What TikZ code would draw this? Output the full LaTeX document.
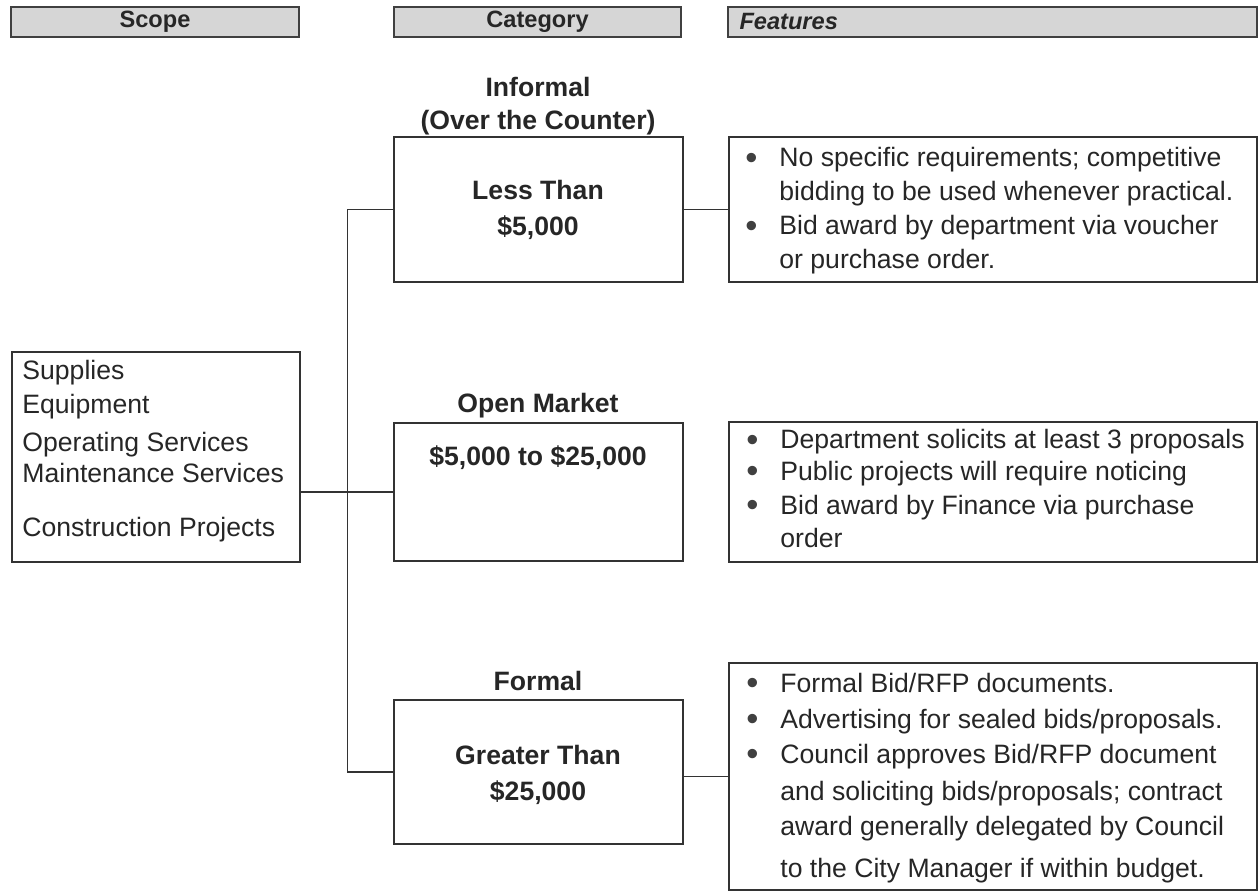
\documentclass[tikz,border=0pt]{standalone}
\usepackage{fontspec}
\usepackage{graphicx}
\setmainfont{Liberation Sans}
\newcommand{\fbul}{\raisebox{-0.08em}{\scalebox{1.3}{\textcolor{black!75}{\textbullet}}}}

\begin{document}
\begin{tikzpicture}[x=0.5pt, y=-0.5pt,
  hdr/.style={draw=black!75, line width=0.9pt, fill=black!16, minimum height=15pt, inner sep=0pt, text=black!85, font=\fontsize{11.8}{14}\selectfont\bfseries},
  box/.style={draw=black!80, line width=0.6pt, inner sep=0pt},
  txt/.style={inner sep=0pt, text=black!85, font=\fontsize{13.3}{17}\selectfont},
  btxt/.style={inner sep=0pt, text=black!85, font=\fontsize{13.3}{18}\selectfont\bfseries},
  link/.style={draw=black!80, line width=0.6pt}]
  \useasboundingbox (0,0) rectangle (1258,892);
  \node[hdr, minimum width=144pt] (hscope) at (155,22) {Scope};
  \node[hdr, minimum width=143.5pt] (hcat) at (537.5,22) {Category};
  \node[hdr, minimum width=264.5pt, text width=253pt, align=left] (hfeat) at (992.5,22) {\itshape Features};
  \node[box, minimum width=144pt, minimum height=105pt] (scope) at (156,457) {};
  \node[box, minimum width=144.5pt, minimum height=72.5pt] (less) at (538.5,209.5) {};
  \node[box, minimum width=144.5pt, minimum height=69pt] (open) at (538.5,492) {};
  \node[box, minimum width=144.5pt, minimum height=72pt] (formal) at (538.5,772) {};
  \node[box, minimum width=264pt, minimum height=72.5pt] (feat1) at (993,209.5) {};
  \node[box, minimum width=264pt, minimum height=70pt] (feat2) at (993,492) {};
  \node[box, minimum width=264pt, minimum height=113.5pt] (feat3) at (993,776.5) {};
  \node[txt, anchor=base west] (scopel) at (22,380) {\begin{tabular}[t]{@{}l@{}}Supplies\\Equipment\\[2pt]Operating Services\\[-1.5pt]Maintenance Services\\[10pt]Construction Projects\end{tabular}};
  \node[btxt, anchor=base] (informal) at (538,97) {\begin{tabular}[t]{@{}c@{}}Informal\\[-1.5pt](Over the Counter)\end{tabular}};
  \node[btxt, anchor=base] (lessl) at (538,200) {\begin{tabular}[t]{@{}c@{}}Less Than\\\$5,000\end{tabular}};
  \node[btxt, anchor=base] (openl) at (538,413) {Open Market};
  \node[btxt, anchor=base] (openv) at (538,466) {\$5,000 to \$25,000};
  \node[btxt, anchor=base] (formall) at (538,690) {Formal};
  \node[btxt, anchor=base] (greater) at (538,764) {\begin{tabular}[t]{@{}c@{}}Greater Than\\\$25,000\end{tabular}};
  \node[txt, anchor=base west] (f1) at (745,167) {\begin{tabular}[t]{@{}p{17pt}@{}l@{}}
    \fbul & No specific requirements; competitive\\
     & bidding to be used whenever practical.\\
    \fbul & Bid award by department via voucher\\
     & or purchase order.
  \end{tabular}};
  \node[txt, anchor=base west] (f2) at (746,449) {\begin{tabular}[t]{@{}p{17pt}@{}l@{}}
    \fbul & Department solicits at least 3 proposals\\[-1.3pt]
    \fbul & Public projects will require noticing\\[0pt]
    \fbul & Bid award by Finance via purchase\\[-0.5pt]
     & order
  \end{tabular}};
  \node[txt, anchor=base west] (f3) at (746,692) {\begin{tabular}[t]{@{}p{17pt}@{}l@{}}
    \fbul & Formal Bid/RFP documents.\\[1pt]
    \fbul & Advertising for sealed bids/proposals.\\[0.5pt]
    \fbul & Council approves Bid/RFP document\\[1.5pt]
     & and soliciting bids/proposals; contract\\[0.5pt]
     & award generally delegated by Council\\[4pt]
     & to the City Manager if within budget.
  \end{tabular}};
  \draw[link] (scope.east |- open.west) -- (open.west);
  \draw[link] (less.west) -- ++(-46,0) |- (formal.west);
  \draw[link] (less.east) -- (feat1.west);
  \draw[link] (formal.east |- feat3.west) -- (feat3.west);
\end{tikzpicture}
\end{document}
